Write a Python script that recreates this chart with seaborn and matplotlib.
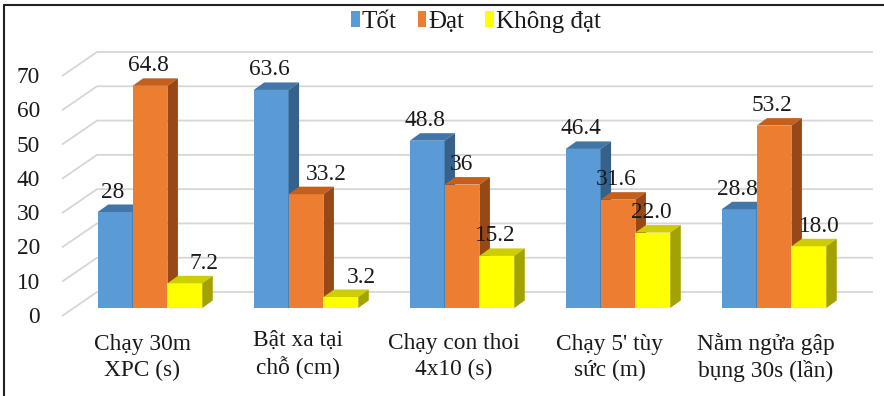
import matplotlib
matplotlib.use("Agg")
import matplotlib.pyplot as plt
from matplotlib.patches import Polygon, Patch
from matplotlib.lines import Line2D
from matplotlib.transforms import ScaledTranslation
import seaborn as sns
import pandas as pd

# Test categories (two-line labels)
categories = [
    "Chạy 30m\nXPC (s)",
    "Bật xa tại\nchỗ (cm)",
    "Chạy con thoi\n4x10 (s)",
    "Chạy 5' tùy\nsức (m)",
    "Nằm ngửa gập\nbụng 30s (lần)",
]
series_names = ["Tốt", "Đạt", "Không đạt"]

# Percentages as printed above each bar
tot = ["28", "63.6", "48.8", "46.4", "28.8"]
dat = ["64.8", "33.2", "36", "31.6", "53.2"]
khong_dat = ["7.2", "3.2", "15.2", "22.0", "18.0"]

y_ticks = [0, 10, 20, 30, 40, 50, 60, 70]

# front / top / side shades for the pseudo-3D columns
front_colors = ["#5B9BD5", "#ED7D31", "#FFFF00"]
top_colors = ["#4275A8", "#C4601C", "#CDCD00"]
side_colors = ["#35618B", "#984816", "#A2A200"]

# horizontal nudges (px) of value labels that would sit on a taller neighbour
label_nudge = [
    [0, 0, 0, 0, 0],
    [0, 22, 2, 0, 0],
    [21, 23, 0, 0, 13],
]
# vertical lift (px) of category labels
cat_lift = [0, 5, 1, 0, 1]

label_series = [tot, dat, khong_dat]
rows = []
for name, vals in zip(series_names, label_series):
    for cat, v in zip(categories, vals):
        rows.append({"cat": cat, "series": name, "value": float(v)})
df = pd.DataFrame(rows)

sns.set_style("white")
plt.rcParams["font.family"] = ["Liberation Serif", "DejaVu Serif"]
FS = 16.8
TXT = "#1a1a1a"

W, H = 884, 396
fig = plt.figure(figsize=(W / 100, H / 100), dpi=100)
fig.patch.set_facecolor("white")

# plot area in pixels: front plane from x=62..873, value 0 at y=308, value 70 at y=68
ax = fig.add_axes([62 / W, (H - 308) / H, 811 / W, 240 / H])
ax.set_facecolor("none")

sns.barplot(data=df, x="cat", y="value", hue="series", order=categories,
            hue_order=series_names, palette=front_colors, saturation=1,
            width=0.67, legend=False, linewidth=0, ax=ax)

px_x = 156.0            # pixels per category step
ax.set_xlim(-88 / px_x, 4 + 99 / px_x)
ax.set_ylim(0, 70)
px_y = 240 / 70.0       # pixels per value unit

# depth of a column and of the back wall, in data units
ddx, ddy = 10.5 / px_x, 7.5 / px_y
wall_dx = 35 / px_x
wall_up, wall_down = 16 / px_y, 8 / px_y
x0_ax = ax.get_xlim()[0]
x1_ax = x0_ax + 811 / px_x

# back wall gridlines and left-wall diagonals
for v in y_ticks:
    ax.plot([x0_ax, x0_ax + wall_dx, x1_ax], [v - wall_down, v + wall_up, v + wall_up],
            color="#d6d6d6", lw=1.3, zorder=0.5, clip_on=False, solid_capstyle="butt")

# pseudo-3D faces and value labels
for k, (cont, labels) in enumerate(zip(ax.containers, label_series)):
    z = 2 + k * 0.1
    for j, (bar, lab) in enumerate(zip(cont.patches, labels)):
        bar.set_zorder(z)
        x0 = bar.get_x()
        x1 = x0 + bar.get_width()
        h = bar.get_height()
        top = Polygon([(x0, h), (x1, h), (x1 + ddx, h + ddy), (x0 + ddx, h + ddy)],
                      closed=True, facecolor=top_colors[k], edgecolor="none", zorder=z)
        side = Polygon([(x1, 0), (x1 + ddx, ddy), (x1 + ddx, h + ddy), (x1, h)],
                       closed=True, facecolor=side_colors[k], edgecolor="none", zorder=z)
        ax.add_patch(top)
        ax.add_patch(side)
        dx_pt = (-2 + label_nudge[k][j]) * 0.72
        ax.annotate(lab, (x0 + bar.get_width() / 2, h + ddy), xytext=(dx_pt, 5.0),
                    textcoords="offset points", ha="center", va="baseline",
                    fontsize=FS, color=TXT, zorder=5)

for s in ax.spines.values():
    s.set_visible(False)
ax.set_xlabel("")
ax.set_ylabel("")
ax.set_yticks(y_ticks)
ax.set_yticklabels([str(t) for t in y_ticks])
ax.tick_params(axis="both", length=0, labelsize=FS, colors=TXT)
ax.tick_params(axis="y", pad=16)
ax.tick_params(axis="x", pad=19)
for lbl, lift in zip(ax.get_xticklabels(), cat_lift):
    lbl.set_linespacing(1.3)
    lbl.set_transform(lbl.get_transform()
                      + ScaledTranslation(-8 / 100, lift / 100, fig.dpi_scale_trans))
for lbl in ax.get_yticklabels():
    lbl.set_transform(lbl.get_transform() + ScaledTranslation(0, -7 / 100, fig.dpi_scale_trans))

# legend across the top
handles = [Patch(facecolor=c, edgecolor="none", label=n) for c, n in zip(front_colors, series_names)]
fig.legend(handles=handles, loc="center", bbox_to_anchor=(476 / W, 1 - 22 / H), ncol=3,
           frameon=False, fontsize=18, handlelength=0.34, handleheight=0.58,
           handletextpad=0.08, columnspacing=0.85, labelcolor=TXT)

# chart frame (top and left edges)
fig.add_artist(Line2D([4 / W, 4 / W], [0, 1 - 5 / H], transform=fig.transFigure,
                      color="#222222", lw=1.5))
fig.add_artist(Line2D([4 / W, 1], [1 - 5 / H, 1 - 5 / H], transform=fig.transFigure,
                      color="#222222", lw=1.5))

fig.savefig("out.png", dpi=100, facecolor="white")
